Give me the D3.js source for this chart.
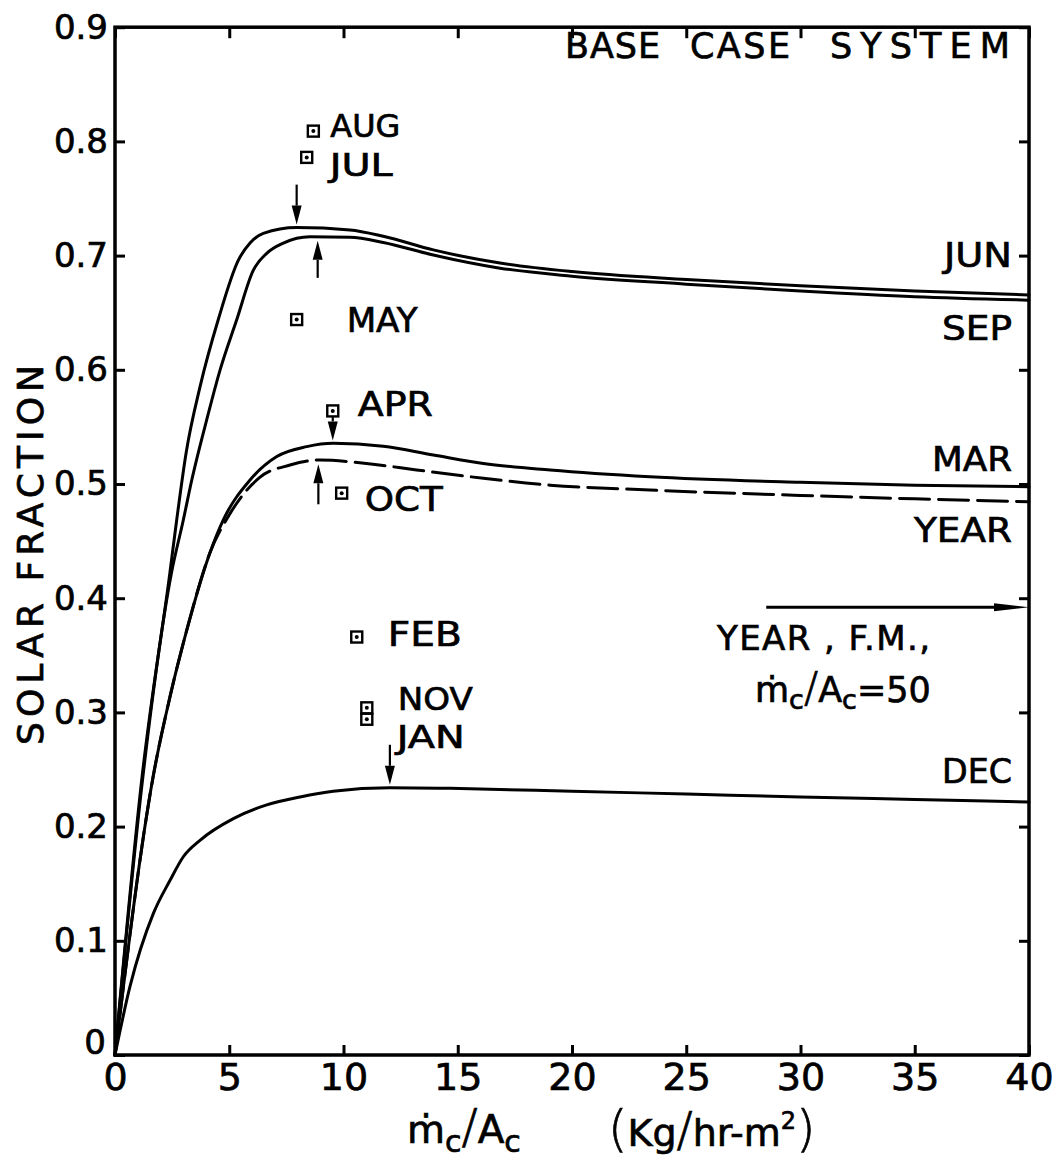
<!DOCTYPE html>
<html>
<head>
<meta charset="utf-8">
<script src="https://cdn.jsdelivr.net/npm/d3@7"></script>
<style>
  html, body { margin: 0; padding: 0; background: #fff; }
  svg { display: block; }
  text { fill: #000; stroke: #000; stroke-width: 0.7px; }
</style>
</head>
<body>
<svg id="chart" width="1063" height="1162"></svg>
<script>
// ---- data -------------------------------------------------------------
const xTicks = [0, 5, 10, 15, 20, 25, 30, 35, 40];
const xTickLabels = ["0", "5", "10", "15", "20", "25", "30", "35", "40"];
const yTicks = [0, 0.1, 0.2, 0.3, 0.4, 0.5, 0.6, 0.7, 0.8, 0.9];
const yTickLabels = ["0", "0.1", "0.2", "0.3", "0.4", "0.5", "0.6", "0.7", "0.8", "0.9"];

// solar fraction vs. collector flow rate [mc/Ac, f]
const jun = [[0,0],[1.17,0.241],[2.4,0.422],[2.7,0.4685],[3.11,0.527],[3.72,0.585],[4.52,0.644],
  [5.4,0.696],[5.91,0.711],[6.49,0.7195],[7.95,0.7245],[10.28,0.7225],[11.74,0.717],[13.93,0.705],
  [16.85,0.6935],[20,0.686],[25,0.679],[30,0.6735],[35,0.669],[40,0.6655]];
const sep = [[0,0],[1.2,0.24],[2.45,0.42],[2.99,0.4685],[3.36,0.5035],[4.01,0.556],[4.6,0.6],
  [5.33,0.644],[6.05,0.687],[6.64,0.702],[7.37,0.711],[8.53,0.7165],[10.28,0.716],[11.74,0.7115],
  [13.93,0.7005],[16.85,0.689],[20,0.682],[25,0.675],[30,0.669],[35,0.664],[40,0.661]];
const mar = [[0,0],[1.68,0.245],[2.41,0.314],[3.14,0.372],[4.16,0.44],[4.74,0.4685],[5.91,0.5035],
  [7.08,0.524],[8.39,0.5327],[9.55,0.5356],[11.74,0.533],[13.93,0.5254],[16.12,0.518],[19.04,0.5123],
  [23.41,0.5064],[30,0.5015],[35,0.499],[40,0.4976]];
const year = [[0,0],[1.68,0.245],[2.41,0.314],[3.14,0.372],[4.16,0.44],[5.03,0.474],[6.35,0.506],
  [7.66,0.5166],[8.97,0.521],[11.0,0.518],[13.2,0.5123],[16.12,0.505],[19.04,0.499],[23.41,0.4947],
  [30,0.49],[35,0.487],[40,0.4845]];
const dec = [[0,0],[0.656,0.06],[1.68,0.124],[2.41,0.153],[2.99,0.1736],[3.72,0.188],[5.18,0.207],
  [6.64,0.219],[8.1,0.226],[9.55,0.231],[12.03,0.234],[14.66,0.2335],[20,0.231],[25,0.2285],
  [30,0.226],[35,0.2238],[40,0.2215]];
const curveNames = ["JUN", "SEP", "MAR", "YEAR", "DEC"];
const curveData = [jun, sep, mar, year, dec];

// optimum points of the other months
const optMonths = ["AUG", "JUL", "MAY", "APR", "OCT", "FEB", "NOV", "JAN"];
const optFlow = [8.68, 8.39, 7.95, 9.53, 9.92, 10.58, 11.02, 11.02];
const optFraction = [0.809, 0.786, 0.644, 0.564, 0.492, 0.366, 0.304, 0.294];

// peak markers on the curves
const peakSeries = ["JUN", "SEP", "MAR", "YEAR", "DEC"];
const peakFlow = [7.95, 8.87, 9.53, 8.9, 12.03];
const peakDir = ["down", "up", "down", "up", "down"];

// yearly value for fully mixed tank at mc/Ac = 50
const fmYearFraction = 0.392;
const fmFlowFrom = 28.5;

// title words
const titleWords = ["BASE", "CASE", "SYSTEM"];

// ---- layout -----------------------------------------------------------
const FONT = "'DejaVu Sans', 'Liberation Sans', sans-serif";
const svg = d3.select("#chart");
const x = d3.scaleLinear().domain([0, 40]).range([115, 1029]);
const y = d3.scaleLinear().domain([0, 0.9]).range([1055, 27.2]);

// curve-end label placement (offset from the curve end, px) and widths
const endLabel = {
  JUN:  { dy: -28, w: 68 },
  SEP:  { dy: 40,  w: 70 },
  MAR:  { dy: -16, w: 80 },
  YEAR: { dy: 40,  w: 98 },
  DEC:  { dy: -19, w: 70 }
};
// month label placement relative to the square marker
const monthLabel = {
  AUG: { dx: 17, dy: 6,  w: 70, fs: 32 },
  JUL: { dx: 23, dy: 19, w: 63, fs: 32 },
  MAY: { dx: 50, dy: 12, w: 71, fs: 34 },
  APR: { dx: 25, dy: 5,  w: 75, fs: 34 },
  OCT: { dx: 23, dy: 18, w: 78, fs: 34 },
  FEB: { dx: 31, dy: 9,  w: 74, fs: 34 },
  NOV: { dx: 31, dy: 2,  w: 75, fs: 32 },
  JAN: { dx: 30, dy: 29, w: 68, fs: 32 }
};
const arrowLen = { JUN: 40, SEP: 37, MAR: 25, YEAR: 40, DEC: 40 };
const titleBox = [[565, 95], [690, 100], [830, 180]];

// ---- axes -------------------------------------------------------------
function styleAxis(g) {
  g.select(".domain").remove();
  g.selectAll(".tick line").attr("stroke", "#000").attr("stroke-width", 3);
  g.selectAll(".tick text").attr("font-family", FONT);
}

const gB = svg.append("g")
  .attr("transform", `translate(0,${y(0)})`)
  .call(d3.axisBottom(x).tickValues(xTicks).tickSize(-10).tickPadding(8)
    .tickFormat((d, i) => xTickLabels[i]));
styleAxis(gB);
gB.selectAll(".tick text").attr("font-size", 38);

const gT = svg.append("g")
  .attr("transform", `translate(0,${y(0.9)})`)
  .call(d3.axisTop(x).tickValues(xTicks).tickSize(-11).tickFormat(""));
styleAxis(gT);

const gL = svg.append("g")
  .attr("transform", `translate(${x(0)},0)`)
  .call(d3.axisLeft(y).tickValues(yTicks).tickSize(-10).tickPadding(7)
    .tickFormat((d, i) => yTickLabels[i]));
styleAxis(gL);
gL.selectAll(".tick text").attr("font-size", 34);
gL.selectAll(".tick").filter(d => d === 0).select("text").attr("y", -12).attr("x", -9);

const gR = svg.append("g")
  .attr("transform", `translate(${x(40)},0)`)
  .call(d3.axisRight(y).tickValues(yTicks).tickSize(-10).tickFormat(""));
styleAxis(gR);

// plot frame
svg.append("rect")
  .attr("x", x(0)).attr("y", y(0.9))
  .attr("width", x(40) - x(0)).attr("height", y(0) - y(0.9))
  .attr("fill", "none").attr("stroke", "#000").attr("stroke-width", 3.5);

// axis titles
svg.append("text")
  .attr("transform", `translate(43,555) rotate(-90)`)
  .attr("text-anchor", "middle")
  .attr("font-family", FONT).attr("font-size", 36)
  .attr("textLength", 380).attr("lengthAdjust", "spacing")
  .text("SOLAR FRACTION");

const xt1 = svg.append("text")
  .attr("x", 407).attr("y", 1143)
  .attr("font-family", FONT).attr("font-size", 39);
xt1.append("tspan").text("\u1E41");
xt1.append("tspan").attr("dy", 9).attr("font-size", 30).text("c");
xt1.append("tspan").attr("dy", -9).attr("font-size", 48).attr("font-weight", 300).text("/");
xt1.append("tspan").text("A");
xt1.append("tspan").attr("dy", 9).attr("font-size", 30).text("c");

const xt2 = svg.append("text")
  .attr("x", 608).attr("y", 1146)
  .attr("font-family", FONT).attr("font-size", 38);
xt2.append("tspan").attr("font-size", 50).attr("font-weight", 300).text("(");
xt2.append("tspan").text("Kg");
xt2.append("tspan").attr("font-size", 48).attr("font-weight", 300).text("/");
xt2.append("tspan").text("hr-m");
xt2.append("tspan").attr("dy", -17).attr("font-size", 24).text("2");
xt2.append("tspan").attr("dy", 17).attr("font-size", 50).attr("font-weight", 300).text(")");

// ---- curves -----------------------------------------------------------
const line = d3.line()
  .x(d => x(d[0])).y(d => y(d[1]))
  .curve(d3.curveMonotoneX);

svg.append("g").selectAll("path")
  .data(curveData)
  .join("path")
  .attr("d", line)
  .attr("fill", "none")
  .attr("stroke", "#000")
  .attr("stroke-width", 3)
  .attr("stroke-linecap", "round")
  .attr("stroke-dasharray", (d, i) => curveNames[i] === "YEAR" ? "30,9" : null);

// labels at curve ends
curveNames.forEach((name, i) => {
  const pts = curveData[i];
  const last = pts[pts.length - 1];
  const L = endLabel[name];
  svg.append("text")
    .attr("x", 1012).attr("y", y(last[1]) + L.dy)
    .attr("text-anchor", "end")
    .attr("font-family", FONT).attr("font-size", 34)
    .attr("textLength", L.w).attr("lengthAdjust", "spacingAndGlyphs")
    .text(name);
});

// ---- peak arrows ------------------------------------------------------
function valueAt(pts, xv) {
  for (let k = 0; k < pts.length - 1; k++) {
    if (xv >= pts[k][0] && xv <= pts[k + 1][0]) {
      const t = (xv - pts[k][0]) / (pts[k + 1][0] - pts[k][0]);
      return pts[k][1] + t * (pts[k + 1][1] - pts[k][1]);
    }
  }
  return pts[pts.length - 1][1];
}

function drawArrow(g, x1, y1, x2, y2, headLen, headHalf, lw) {
  const ang = Math.atan2(y2 - y1, x2 - x1);
  const bx = x2 - headLen * Math.cos(ang), by = y2 - headLen * Math.sin(ang);
  g.append("line")
    .attr("x1", x1).attr("y1", y1).attr("x2", bx).attr("y2", by)
    .attr("stroke", "#000").attr("stroke-width", lw);
  const px = -Math.sin(ang) * headHalf, py = Math.cos(ang) * headHalf;
  g.append("path")
    .attr("d", `M${x2},${y2}L${bx + px},${by + py}L${bx - px},${by - py}Z`)
    .attr("fill", "#000");
}

const gA = svg.append("g");
peakSeries.forEach((name, i) => {
  const pts = curveData[curveNames.indexOf(name)];
  const px = x(peakFlow[i]);
  const cy = y(valueAt(pts, peakFlow[i]));
  const len = arrowLen[name];
  if (peakDir[i] === "down") {
    const tip = cy - 3;
    drawArrow(gA, px, tip - len, px, tip, 19, 5, 2.2);
  } else {
    const tip = cy + 4;
    drawArrow(gA, px, tip + len, px, tip, 19, 5, 2.2);
  }
});

// ---- monthly optimum markers -------------------------------------------
const gM = svg.append("g");
optMonths.forEach((m, i) => {
  const cx = x(optFlow[i]), cy = y(optFraction[i]);
  gM.append("rect")
    .attr("x", cx - 5.5).attr("y", cy - 5.5)
    .attr("width", 11).attr("height", 11)
    .attr("fill", "#fff").attr("stroke", "#000").attr("stroke-width", 2.4);
  gM.append("circle").attr("cx", cx).attr("cy", cy).attr("r", 2).attr("fill", "#000");
  const L = monthLabel[m];
  gM.append("text")
    .attr("x", cx + L.dx).attr("y", cy + L.dy)
    .attr("font-family", FONT).attr("font-size", L.fs)
    .attr("textLength", L.w).attr("lengthAdjust", "spacingAndGlyphs")
    .text(m);
});

// ---- fully mixed yearly value -----------------------------------------
drawArrow(svg.append("g"), x(fmFlowFrom), y(fmYearFraction), x(40), y(fmYearFraction), 35, 4, 3);

svg.append("text")
  .attr("x", 717).attr("y", 650)
  .attr("font-family", FONT).attr("font-size", 34)
  .attr("textLength", 213).attr("lengthAdjust", "spacing")
  .text("YEAR , F.M.,");

const fm2 = svg.append("text")
  .attr("x", 755).attr("y", 702)
  .attr("font-family", FONT).attr("font-size", 35);
fm2.append("tspan").text("\u1E41");
fm2.append("tspan").attr("dy", 7).attr("font-size", 27).text("c");
fm2.append("tspan").attr("dy", -7).attr("font-size", 42).attr("font-weight", 300).text("/");
fm2.append("tspan").text("A");
fm2.append("tspan").attr("dy", 7).attr("font-size", 27).text("c");
fm2.append("tspan").attr("dy", -7).text("=50");

// ---- title ------------------------------------------------------------
titleWords.forEach((w, i) => {
  svg.append("text")
    .attr("x", titleBox[i][0]).attr("y", 58)
    .attr("font-family", FONT).attr("font-size", 35)
    .attr("textLength", titleBox[i][1]).attr("lengthAdjust", "spacing")
    .text(w);
});
</script>
</body>
</html>
